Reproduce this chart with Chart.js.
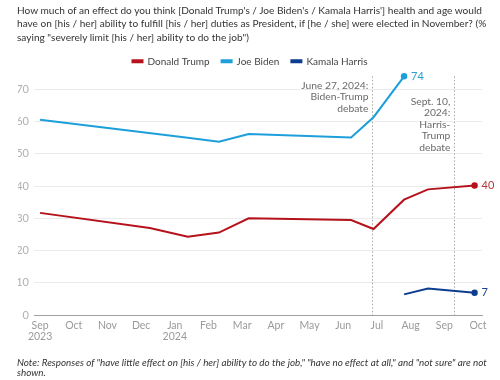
<!DOCTYPE html>
<html><head><meta charset="utf-8">
<script src="https://cdn.jsdelivr.net/npm/chart.js@4"></script>
<style>
html,body{margin:0;padding:0;background:#fff;}
#wrap{position:relative;width:500px;height:380px;overflow:hidden;font-family:Lato,sans-serif;}
#title{position:absolute;left:17px;top:4px;font-size:10px;line-height:13.3px;color:#333;white-space:nowrap;}
#note{position:absolute;left:17px;top:357px;font-size:9px;line-height:10px;font-style:italic;color:#333;white-space:nowrap;}
#title span,#note span{display:inline-block;}
canvas{position:absolute;left:0;top:0;}
</style></head>
<body>
<div id="wrap">
<canvas id="c" width="500" height="380"></canvas>
<div id="title"><span id="t1">How much of an effect do you think [Donald Trump's / Joe Biden's / Kamala Harris'] health and age would</span><br>have on [his / her] ability to fulfill [his / her] duties as President, if [he / she] were elected in November? (%<br>saying "severely limit [his / her] ability to do the job")</div>
<div id="note"><span id="n1">Note: Responses of "have little effect on [his / her] ability to do the job," "have no effect at all," and "not sure" are not</span><br>shown.</div>
</div>
<script>
// ---- data ----
const trumpDates  = ['2023-09-01','2023-12-09','2024-01-13','2024-02-10','2024-03-07','2024-06-08','2024-06-28','2024-07-26','2024-08-17','2024-09-28'];
const trumpValues = [31.7, 27.0, 24.3, 25.6, 30.0, 29.5, 26.7, 35.8, 39.0, 40.2];
const bidenDates  = ['2023-09-01','2024-01-13','2024-02-10','2024-03-07','2024-06-08','2024-06-28','2024-07-26'];
const bidenValues = [60.6, 55.0, 53.8, 56.2, 55.1, 61.4, 74.1];
const harrisDates  = ['2024-07-26','2024-08-17','2024-09-28'];
const harrisValues = [6.4, 8.2, 6.9];
const seriesNames = ['Donald Trump','Joe Biden','Kamala Harris'];
const endLabels = ['40','74','7'];
const monthLabels = [['Sep','2023'],'Oct','Nov','Dec',['Jan','2024'],'Feb','Mar','Apr','May','Jun','Jul','Aug','Sep','Oct'];
const yTicks = [0,10,20,30,40,50,60,70];
const debateDates = ['2024-06-27','2024-09-10'];
const debateLabels = [['June 27, 2024:','Biden-Trump','debate'],['Sept. 10,','2024:','Harris-','Trump','debate']];

// ---- fit text blocks to the reference widths ----
function fitWidth(boxId, spanId, target){
  const box = document.getElementById(boxId), sp = document.getElementById(spanId);
  const fs = parseFloat(getComputedStyle(box).fontSize);
  const w = sp.getBoundingClientRect().width;
  box.style.fontSize = (fs * target / w).toFixed(2) + 'px';
}
fitWidth('title','t1',466);
fitWidth('note','n1',470);

// ---- helpers ----
function monthIndex(s){
  const [y,m,d] = s.split('-').map(Number);
  const dim = new Date(y, m, 0).getDate();
  return (y-2023)*12 + (m-9) + (d-1)/dim;
}
function pts(dates, vals){ return dates.map((d,i)=>({x:monthIndex(d), y:vals[i]})); }
function lastOnly(n, r){ return Array.from({length:n},(_,i)=> i===n-1 ? r : 0); }

const colors = ['#b5121b','#1d9fda','#0d3d8f'];
const labelColors = ['#b5383a','#2a9fd6','#1e3f8f'];
const FONT = 'Lato, sans-serif';

const annotationPlugin = {
  id:'debates',
  beforeDatasetsDraw(chart){
    const {ctx, chartArea, scales:{x}} = chart;
    ctx.save();
    ctx.strokeStyle = '#a8a8a8';
    ctx.lineWidth = 1;
    ctx.setLineDash([1.5,2]);
    debateDates.forEach(d=>{
      const px = Math.round(x.getPixelForValue(monthIndex(d))) + 0.5;
      ctx.beginPath(); ctx.moveTo(px, chartArea.top); ctx.lineTo(px, chartArea.bottom); ctx.stroke();
    });
    ctx.restore();
  },
  afterDatasetsDraw(chart, args, opts){
    const {ctx, chartArea, scales:{x}} = chart;
    ctx.save();
    ctx.font = '10.3px ' + FONT;
    ctx.fillStyle = '#6a6a6a';
    ctx.textAlign = 'right';
    ctx.textBaseline = 'middle';
    debateDates.forEach((d,k)=>{
      const px = x.getPixelForValue(monthIndex(d));
      debateLabels[k].forEach((t,i)=>{
        ctx.fillText(t, px - 4, chartArea.top + opts.offsets[k] + i*11.5);
      });
    });
    // end labels
    ctx.font = '11px ' + FONT;
    ctx.textAlign = 'left';
    chart.data.datasets.forEach((ds,i)=>{
      const meta = chart.getDatasetMeta(i);
      const p = meta.data[meta.data.length-1];
      ctx.fillStyle = labelColors[i];
      ctx.fillText(endLabels[i], p.x + 7, p.y);
    });
    ctx.restore();
  }
};

const mk = (i, dates, vals) => ({
  label: seriesNames[i],
  data: pts(dates, vals),
  borderColor: colors[i],
  backgroundColor: colors[i],
  borderWidth: 2,
  pointRadius: lastOnly(dates.length, 3.2),
  pointHoverRadius: 0,
  pointBorderWidth: 0,
  tension: 0,
  clip: false
});

new Chart(document.getElementById('c'), {
  type:'line',
  data:{ datasets:[ mk(0,trumpDates,trumpValues), mk(1,bidenDates,bidenValues), mk(2,harrisDates,harrisValues) ] },
  options:{
    responsive:false,
    animation:false,
    events:[],
    layout:{ padding:{ top:44.3, left:18, right:18, bottom:0 } },
    plugins:{
      legend:{
        display:true, position:'top', align:'center',
        labels:{ boxWidth:10, boxHeight:2, padding:12, color:'#444', font:{family:FONT, size:10} }
      },
      tooltip:{enabled:false},
      debates:{ offsets:[9.2, 25.2] }
    },
    scales:{
      x:{
        type:'linear', min:-0.18, max:13.12,
        afterFit(s){ s.height = 65; },
        afterBuildTicks(s){ s.ticks = monthLabels.map((_,i)=>({value:i})); },
        ticks:{ autoSkip:false, maxRotation:0, padding:5, color:'#9a9a9a',
          font:{family:FONT, size:10.5, lineHeight:1.05},
          callback:(v)=> monthLabels[v] },
        grid:{ display:false, drawTicks:false },
        border:{ display:true, color:'#a0a0a0', width:1 }
      },
      y:{
        min:0, max:74.1,
        afterFit(s){ s.width = 16; },
        afterBuildTicks(s){ s.ticks = yTicks.map(v=>({value:v})); },
        ticks:{ padding:5, color:'#b0b0b0', font:{family:FONT, size:11} },
        grid:{ color:'#ebebeb', drawTicks:false, lineWidth:1 },
        border:{ display:false }
      }
    }
  },
  plugins:[annotationPlugin]
});
</script>
</body></html>
